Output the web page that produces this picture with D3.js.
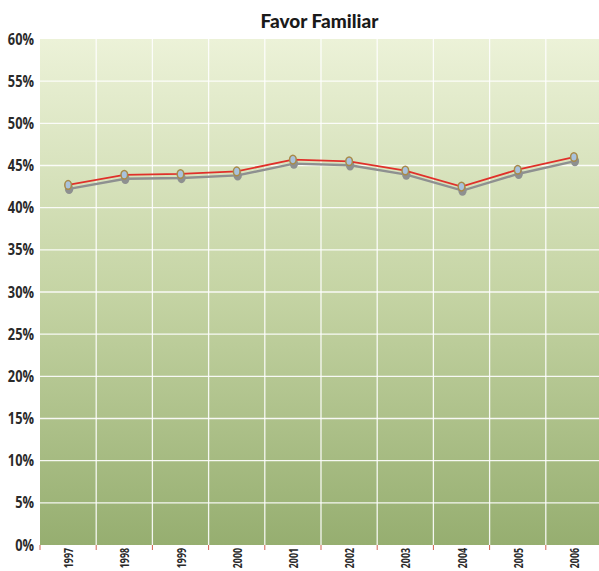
<!DOCTYPE html>
<html>
<head>
<meta charset="utf-8">
<script src="https://cdn.jsdelivr.net/npm/d3@7"></script>
<style>
  html, body { margin: 0; padding: 0; background: #fff; }
  svg { display: block; }
  .lbl { font-family: "Open Sans", sans-serif; fill: #2a2a2a; }
</style>
</head>
<body>
<svg id="chart" width="599" height="571"></svg>
<script>
// Survey share by year
const years = ["1997","1998","1999","2000","2001","2002","2003","2004","2005","2006"];
const favor = [42.7, 43.9, 44.0, 44.3, 45.7, 45.5, 44.4, 42.5, 44.5, 46.0];
const yTicks = [0, 5, 10, 15, 20, 25, 30, 35, 40, 45, 50, 55, 60];
const title = "Favor Familiar";

const svg = d3.select("#chart");
const plotL = 40, plotT = 39, plotB = 545, bandW = 56.2;
const plotR = plotL + bandW * years.length;

const x = d3.scaleBand().domain(years).range([plotL, plotR]).padding(0);
const y = d3.scaleLinear().domain([0, 60]).range([plotB, plotT]);

const defs = svg.append("defs");
const grad = defs.append("linearGradient").attr("id", "bg")
  .attr("x1", 0).attr("y1", 0).attr("x2", 0).attr("y2", 1);
grad.append("stop").attr("offset", "0%").attr("stop-color", "#ecf2d8");
grad.append("stop").attr("offset", "50%").attr("stop-color", "#c5d4a4");
grad.append("stop").attr("offset", "100%").attr("stop-color", "#96ae70");

svg.append("rect").attr("x", plotL).attr("y", plotT)
  .attr("width", plotR - plotL).attr("height", plotB - plotT)
  .attr("fill", "url(#bg)");

// horizontal grid
svg.append("g").selectAll("line").data(yTicks.filter(d => d > 0 && d < 60)).join("line")
  .attr("x1", plotL).attr("x2", plotR)
  .attr("y1", d => y(d)).attr("y2", d => y(d))
  .attr("stroke", "#ffffff").attr("stroke-width", 1.3).attr("opacity", 0.9);

// vertical grid at band boundaries
const bounds = years.slice(1).map(d => x(d));
svg.append("g").selectAll("line").data(bounds).join("line")
  .attr("x1", d => d).attr("x2", d => d)
  .attr("y1", plotT).attr("y2", plotB)
  .attr("stroke", "#ffffff").attr("stroke-width", 1.3).attr("opacity", 0.9);

// small red ticks under the axis
svg.append("g").selectAll("line").data([plotL].concat(bounds)).join("line")
  .attr("x1", d => d).attr("x2", d => d)
  .attr("y1", plotB).attr("y2", plotB + 5)
  .attr("stroke", "#d06050").attr("stroke-width", 1);

// y labels, horizontally condensed
svg.append("g").selectAll("text").data(yTicks).join("text")
  .attr("class", "lbl")
  .attr("transform", d => `translate(34,${y(d) + 5.5}) scale(0.8,1)`)
  .attr("text-anchor", "end")
  .attr("font-size", 16).attr("font-weight", "bold")
  .text(d => d + "%");

// x labels rotated and condensed
svg.append("g").selectAll("text").data(years).join("text")
  .attr("class", "lbl")
  .attr("font-size", 13).attr("font-weight", "bold")
  .attr("text-anchor", "end")
  .attr("transform", d => `translate(${x(d) + x.bandwidth() / 2 + 5},${plotB + 3}) rotate(-90) scale(0.68,1)`)
  .text(d => d);

// title
svg.append("text")
  .attr("x", (plotL + 599) / 2).attr("y", 28)
  .attr("text-anchor", "middle")
  .attr("font-family", "Lato, 'Open Sans', sans-serif")
  .attr("font-weight", "900").attr("font-size", 19).attr("fill", "#1a1a1a")
  .text(title);

const cx = d => x(d) + x.bandwidth() / 2;
const line = d3.line().x((d, i) => cx(years[i])).y(d => y(d));

// drop shadow copy
const shadow = svg.append("g").attr("transform", "translate(1,4)");
shadow.append("path").datum(favor).attr("d", line)
  .attr("fill", "none").attr("stroke", "#8e9090").attr("stroke-width", 2.4);
shadow.selectAll("ellipse").data(favor).join("ellipse")
  .attr("cx", (d, i) => cx(years[i])).attr("cy", d => y(d))
  .attr("rx", 4.2).attr("ry", 5.2).attr("fill", "#8e9090");

// series
svg.append("path").datum(favor).attr("d", line)
  .attr("fill", "none").attr("stroke", "#e0302a").attr("stroke-width", 1.8);
svg.append("g").selectAll("ellipse").data(favor).join("ellipse")
  .attr("cx", (d, i) => cx(years[i])).attr("cy", d => y(d))
  .attr("rx", 3.3).attr("ry", 4.3)
  .attr("fill", "#a9c2dc").attr("stroke", "#a88a48").attr("stroke-width", 1.5);
</script>
</body>
</html>
